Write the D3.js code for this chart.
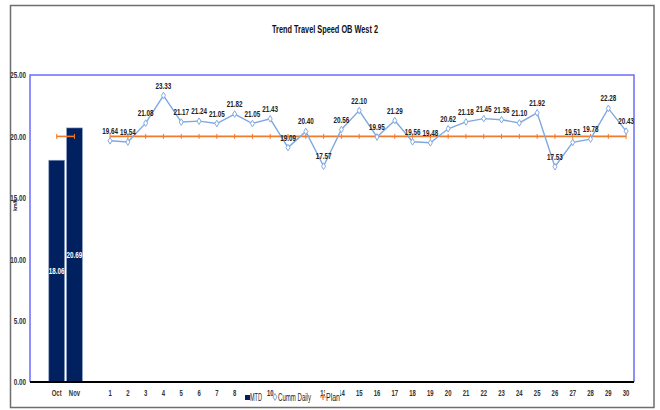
<!DOCTYPE html>
<html>
<head>
<meta charset="utf-8">
<script src="https://cdn.jsdelivr.net/npm/d3@7"></script>
<style>
  html, body { margin: 0; padding: 0; background: #fff; }
  svg { display: block; }
  text { font-family: "Liberation Sans", Arial, sans-serif; }
</style>
</head>
<body>
<svg id="chart" width="660" height="410"></svg>
<script>
// Monthly summary bars
const months = ["Oct", "Nov"];
const mtdValues = [18.06, 20.69];

// Daily cumulative travel speed for days 1..30
const days = ["1","2","3","4","5","6","7","8","9","10","11","12","13","14","15","16","17","18","19","20","21","22","23","24","25","26","27","28","29","30"];
const cummDaily = [19.64, 19.54, 21.08, 23.33, 21.17, 21.24, 21.05, 21.82, 21.05, 21.43, 19.09, 20.40, 17.57, 20.56, 22.10, 19.95, 21.29, 19.56, 19.48, 20.62, 21.18, 21.45, 21.36, 21.10, 21.92, 17.53, 19.51, 19.78, 22.28, 20.43];

// Plan target
const planValue = 20;

const yTicks = [0, 5, 10, 15, 20, 25];
const legendLabels = ["MTD", "Cumm Daily", "Plan"];

const navy = "#002060";
const blue = "#7FA8E0";
const orange = "#F07A2E";
const narrow = 0.7; // horizontal squeeze for the condensed label style

const svg = d3.select("#chart");

// spacer categories keep an empty slot before the months and between months and days
const categories = ["_s0", ...months, "_s1", ...days];

const plotL = 30, plotR = 634, plotT = 75, plotB = 382;

const x = d3.scaleBand().domain(categories).range([plotL, 635]).padding(0);
const y = d3.scaleLinear().domain([0, 25]).range([plotB, plotT]);
const cx = c => x(c) + x.bandwidth() / 2;

// places a condensed text at (px, py)
function narrowText(sel, px, py) {
  return sel.attr("x", 0).attr("y", 0)
    .attr("transform", (d, i) => `translate(${px(d, i)},${py(d, i)}) scale(${narrow},1)`);
}

// outer frame
svg.append("rect")
  .attr("x", 10.5).attr("y", 5.5).attr("width", 643.5).attr("height", 402)
  .attr("fill", "#fff").attr("stroke", "#6e6e6e").attr("stroke-width", 1.5);

// title
svg.append("text")
  .attr("x", 272).attr("y", 33)
  .attr("textLength", 106).attr("lengthAdjust", "spacingAndGlyphs")
  .attr("font-size", 11).attr("font-weight", "bold")
  .attr("fill", "#111")
  .text("Trend Travel Speed OB West 2");

// plot border (left/top/right)
svg.append("path")
  .attr("d", `M${plotL},${plotB} V${plotT} H${plotR} V${plotB}`)
  .attr("fill", "none").attr("stroke", "#6b6bff").attr("stroke-width", 1.5);

// y axis
const yAxis = svg.append("g")
  .attr("transform", `translate(${plotL},0)`)
  .call(d3.axisLeft(y).tickValues(yTicks).tickFormat(d3.format(".2f")).tickSize(0).tickPadding(4));
yAxis.select(".domain").remove();
yAxis.selectAll("text")
  .attr("font-size", 9).attr("font-weight", "bold").attr("fill", "#333").attr("font-family", null)
  .attr("transform", `scale(${narrow},1)`).attr("x", -4 / narrow);

// y axis title
svg.append("text")
  .attr("transform", "translate(17,205) rotate(-90)")
  .attr("text-anchor", "middle")
  .attr("font-size", 5).attr("font-weight", "bold").attr("fill", "#222")
  .text("km/h");

// MTD bars
const monthData = months.map((m, i) => ({ m, v: mtdValues[i] }));
svg.append("g").selectAll("rect").data(monthData).join("rect")
  .attr("x", d => x(d.m) + 1)
  .attr("width", x.bandwidth() - 2)
  .attr("y", d => y(d.v))
  .attr("height", d => y(0) - y(d.v))
  .attr("fill", navy)
  .attr("stroke", "#8a9cc0").attr("stroke-width", 0.6);

svg.append("g").selectAll("text").data(monthData).join("text")
  .call(narrowText, d => cx(d.m), d => (y(d.v) + y(0)) / 2 + 3)
  .attr("text-anchor", "middle")
  .attr("font-size", 9).attr("font-weight", "bold").attr("fill", "#fff")
  .text(d => d.v.toFixed(2));

// bottom axis line
svg.append("line")
  .attr("x1", plotL).attr("x2", plotR)
  .attr("y1", plotB).attr("y2", plotB)
  .attr("stroke", "#000").attr("stroke-width", 2);

// plan lines: one across the months, one across the days
const planLine = d3.line().x(d => cx(d)).y(() => y(planValue));
[months, days].forEach(group => {
  svg.append("path")
    .attr("d", planLine(group))
    .attr("fill", "none").attr("stroke", orange).attr("stroke-width", 1.6);
  svg.append("g").selectAll("line").data(group).join("line")
    .attr("x1", d => cx(d)).attr("x2", d => cx(d))
    .attr("y1", y(planValue) - 2.5).attr("y2", y(planValue) + 2.5)
    .attr("stroke", orange).attr("stroke-width", 1);
});

// cumulative daily line
const dayData = days.map((d, i) => ({ d, v: cummDaily[i] }));
svg.append("path")
  .attr("d", d3.line().x(p => cx(p.d)).y(p => y(p.v))(dayData))
  .attr("fill", "none").attr("stroke", blue).attr("stroke-width", 1.4);

const diamond = d3.symbol().type(d3.symbolDiamond).size(14);
svg.append("g").selectAll("path").data(dayData).join("path")
  .attr("transform", p => `translate(${cx(p.d)},${y(p.v)}) scale(1,0.95)`)
  .attr("d", diamond)
  .attr("fill", "#fff").attr("stroke", blue).attr("stroke-width", 1);

svg.append("g").selectAll("text").data(dayData).join("text")
  .call(narrowText, p => cx(p.d), p => y(p.v) - 7)
  .attr("text-anchor", "middle")
  .attr("font-size", 9).attr("font-weight", "bold").attr("fill", "#222")
  .text(p => p.v.toFixed(2));

// x axis labels
const xAxis = svg.append("g")
  .attr("transform", `translate(0,${plotB})`)
  .call(d3.axisBottom(x).tickSize(0).tickPadding(8).tickFormat(d => d.startsWith("_") ? "" : d));
xAxis.select(".domain").remove();
xAxis.selectAll("text")
  .attr("font-size", 8.5).attr("font-weight", "bold").attr("fill", "#333").attr("font-family", null)
  .attr("transform", `scale(${narrow},1)`);

// legend, laid over the axis labels below the plot
const legend = svg.append("g");
const ly = 397;
const items = [
  { label: legendLabels[0], x: 245, tx: 250, w: 12 },
  { label: legendLabels[1], x: 275, tx: 278, w: 33 },
  { label: legendLabels[2], x: 323, tx: 326, w: 14 }
];
items.forEach(it => {
  legend.append("rect")
    .attr("x", it.tx - 1).attr("y", ly - 7).attr("width", it.w + 1).attr("height", 12)
    .attr("fill", "#fff");
  legend.append("text")
    .attr("x", it.tx).attr("y", ly + 3.5)
    .attr("textLength", it.w).attr("lengthAdjust", "spacingAndGlyphs")
    .attr("font-size", 10).attr("fill", "#222")
    .text(it.label);
});
legend.append("rect")
  .attr("x", items[0].x).attr("y", ly - 2).attr("width", 5).attr("height", 5)
  .attr("fill", navy);
legend.append("path")
  .attr("transform", `translate(${items[1].x},${ly})`)
  .attr("d", diamond)
  .attr("fill", "#fff").attr("stroke", blue).attr("stroke-width", 1);
legend.append("path")
  .attr("d", `M${items[2].x - 3},${ly} H${items[2].x + 3} M${items[2].x},${ly - 3} V${ly + 3}`)
  .attr("stroke", orange).attr("stroke-width", 1.2);
</script>
</body>
</html>
